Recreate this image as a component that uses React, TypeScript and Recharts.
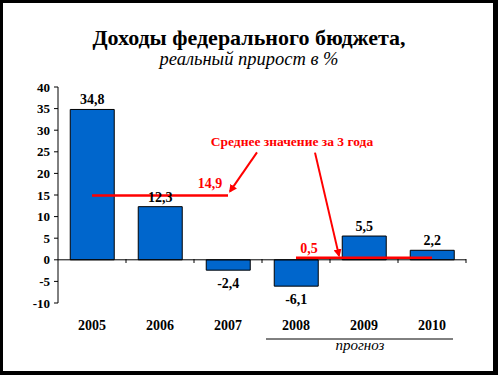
import React from "react";
import {
    ComposedChart,
    Bar,
    Line,
    XAxis,
    YAxis,
    ReferenceLine,
    LabelList,
} from "recharts";

const years = ["2005", "2006", "2007", "2008", "2009", "2010"];
const revenueGrowth = [34.8, 12.3, -2.4, -6.1, 5.5, 2.2];
const avgFirst: (number | null)[] = [14.9, 14.9, 14.9, null, null, null];
const avgSecond: (number | null)[] = [null, null, null, 0.5, 0.5, 0.5];
const yTicks = [-10, -5, 0, 5, 10, 15, 20, 25, 30, 35, 40];
const forecastYears = ["2008", "2009", "2010"];
const titleText = "Доходы федерального бюджета,";
const subtitleText = "реальный прирост в %";
const noteText = "Среднее значение за 3 года";
const forecastText = "прогноз";

const data = years.map((year, i) => ({
    year,
    value: revenueGrowth[i],
    avg1: avgFirst[i],
    avg2: avgSecond[i],
}));

const SERIF = '"Liberation Serif", "Times New Roman", serif';
const RED = "#FF0000";
const fmt = (v: number) => v.toFixed(1).replace(".", ",");

const BarValueLabel = (props: any) => {
    const { x, y, width, height, value } = props;
    if (value === null || value === undefined) return null;
    const top = Math.min(y, y + height);
    const bottom = Math.max(y, y + height);
    const ty = value >= 0 ? top - 5 : bottom + 18;
    return (
        <text
            x={x + width / 2}
            y={ty}
            textAnchor="middle"
            fontFamily={SERIF}
            fontWeight="bold"
            fontSize={14}
            fill="#000"
        >
            {fmt(value)}
        </text>
    );
};

// label + annotation on the last point of the first average line
const AvgFirstLabel = (props: any) => {
    const { x, y, index, value } = props;
    if (index !== 2 || value == null) return null;
    return (
        <g>
            <text
                x={x - 18}
                y={y - 7}
                textAnchor="middle"
                fontFamily={SERIF}
                fontWeight="bold"
                fontSize={14}
                fill={RED}
            >
                {fmt(value)}
            </text>
            <text
                x={x + 64}
                y={y - 49}
                textAnchor="middle"
                fontFamily={SERIF}
                fontWeight="bold"
                fontSize={13.5}
                fill={RED}
            >
                {noteText}
            </text>
            <line
                x1={x + 29}
                y1={y - 43}
                x2={x + 2}
                y2={y - 4}
                stroke={RED}
                strokeWidth={2}
                markerEnd="url(#redArrow)"
            />
        </g>
    );
};

const AvgSecondLabel = (props: any) => {
    const { x, y, index, value } = props;
    if (index !== 3 || value == null) return null;
    return (
        <g>
            <text
                x={x + 13}
                y={y - 5}
                textAnchor="middle"
                fontFamily={SERIF}
                fontWeight="bold"
                fontSize={14}
                fill={RED}
            >
                {fmt(value)}
            </text>
            <line
                x1={x + 19}
                y1={y - 105}
                x2={x + 43}
                y2={y - 2}
                stroke={RED}
                strokeWidth={2}
                markerEnd="url(#redArrow)"
            />
        </g>
    );
};

const YearTick = (props: any) => {
    const { x, y, payload } = props;
    const half = payload.offset || 34;
    const zeroY = y - 44;
    return (
        <g>
            <line x1={x + half} y1={zeroY} x2={x + half} y2={zeroY + 4} stroke="#000" />
            <text
                x={x}
                y={y + 27}
                textAnchor="middle"
                fontFamily={SERIF}
                fontWeight="bold"
                fontSize={14}
                fill="#000"
            >
                {payload.value}
            </text>
            {payload.value === forecastYears[1] && (
                <g>
                    <line x1={x - 98} y1={y + 36} x2={x + 89} y2={y + 36} stroke="#000" />
                    <text
                        x={x - 4}
                        y={y + 47}
                        textAnchor="middle"
                        fontFamily={SERIF}
                        fontStyle="italic"
                        fontSize={15}
                        fill="#000"
                    >
                        {forecastText}
                    </text>
                </g>
            )}
        </g>
    );
};

const App = () => {
    return (
        <div
            style={{
                position: "absolute",
                left: 0,
                top: 0,
                width: 498,
                height: 375,
                background: "#000",
            }}
        >
            <div
                style={{
                    position: "absolute",
                    left: 3,
                    top: 3,
                    width: 490,
                    height: 368,
                    background: "#fff",
                }}
            />
            <div
                style={{
                    position: "absolute",
                    left: 0,
                    top: 26,
                    width: 498,
                    textAlign: "center",
                    fontFamily: SERIF,
                    fontWeight: "bold",
                    fontSize: 22,
                    lineHeight: "24px",
                    color: "#000",
                }}
            >
                {titleText}
            </div>
            <div
                style={{
                    position: "absolute",
                    left: 0,
                    top: 49,
                    width: 498,
                    textAlign: "center",
                    fontFamily: SERIF,
                    fontStyle: "italic",
                    fontSize: 18.5,
                    lineHeight: "21px",
                    color: "#000",
                }}
            >
                {subtitleText}
            </div>
            <div style={{ position: "absolute", left: 0, top: 0 }}>
                <ComposedChart
                    width={498}
                    height={375}
                    data={data}
                    margin={{ top: 87, right: 32, left: 0, bottom: 0 }}
                    barCategoryGap="18%"
                >
                    <defs>
                        <marker
                            id="redArrow"
                            viewBox="0 0 10 10"
                            refX="8"
                            refY="5"
                            markerWidth="4"
                            markerHeight="4"
                            orient="auto"
                        >
                            <path d="M0,0 L10,5 L0,10 z" fill={RED} />
                        </marker>
                    </defs>
                    <XAxis
                        dataKey="year"
                        height={72}
                        axisLine={false}
                        tickLine={false}
                        tickSize={0}
                        tickMargin={0}
                        tick={<YearTick />}
                        interval={0}
                    />
                    <YAxis
                        width={58}
                        domain={[-10, 40]}
                        ticks={yTicks}
                        interval={0}
                        tickSize={4}
                        tickMargin={4}
                        axisLine={{ stroke: "#000" }}
                        tickLine={{ stroke: "#000" }}
                        tick={{
                            fill: "#000",
                            fontFamily: SERIF,
                            fontWeight: "bold",
                            fontSize: 13,
                        }}
                    />
                    <ReferenceLine y={0} stroke="#000" strokeWidth={1} />
                    <Bar
                        dataKey="value"
                        fill="#0066CC"
                        stroke="#000"
                        strokeWidth={1}
                        isAnimationActive={false}
                    >
                        <LabelList dataKey="value" content={<BarValueLabel />} />
                    </Bar>
                    <Line
                        dataKey="avg1"
                        stroke={RED}
                        strokeWidth={2.5}
                        dot={false}
                        activeDot={false}
                        isAnimationActive={false}
                        label={<AvgFirstLabel />}
                    />
                    <Line
                        dataKey="avg2"
                        stroke={RED}
                        strokeWidth={2.5}
                        dot={false}
                        activeDot={false}
                        isAnimationActive={false}
                        label={<AvgSecondLabel />}
                    />
                </ComposedChart>
            </div>
        </div>
    );
};

export default App;
